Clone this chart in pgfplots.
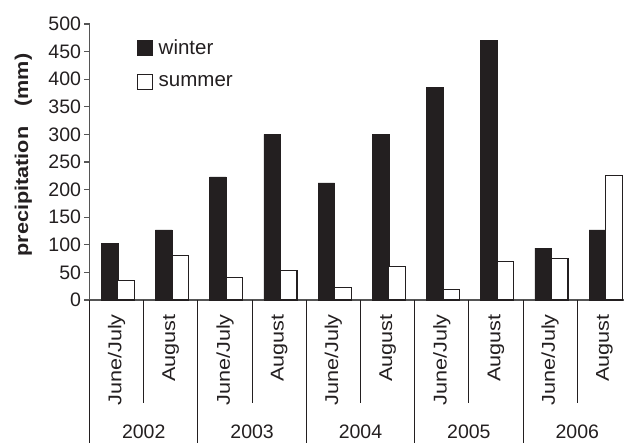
\documentclass[border=0pt]{standalone}
\usepackage{pgfplots}
\pgfplotsset{compat=1.18}
\usepackage{fontspec}
\setmainfont{Liberation Sans}
\newfontfamily\rotfont[FakeStretch=1.17]{Liberation Sans}
\definecolor{ink}{HTML}{231F20}
\definecolor{axgray}{HTML}{555555}
\begin{document}
\begin{tikzpicture}[x=1pt,y=1pt]
\useasboundingbox (0,0) rectangle (624,443);
\begin{axis}[
  at={(89.5pt,143pt)}, anchor=south west,
  scale only axis, width=542pt, height=276pt,
  xmin=0, xmax=10, ymin=0, ymax=500,
  clip=false,
  axis x line*=bottom, axis y line*=left,
  x axis line style={-, axgray, line width=1.3pt, shorten <=-5pt},
  y axis line style={-, axgray, line width=1.3pt},
  ytick={0,50,...,500},
  tick align=outside, major tick length=5pt,
  ytick style={axgray, line width=1.1pt},
  xtick=\empty,
  yticklabel style={font=\fontsize{19.5}{22}\selectfont, text=ink},
  /pgf/number format/assume math mode=true,
  ylabel={\rotfont\bfseries precipitation\hspace{20pt}(mm)},
  ylabel style={at={(axis description cs:-0.122,0.525)}, anchor=center,
    font=\fontsize{18.5}{22}\selectfont, text=ink},
  ybar, bar width=0.305,
  legend style={at={(axis description cs:0.0876,0.976)}, anchor=north west, draw=none, fill=none,
    font=\fontsize{20.5}{22}\selectfont, text=ink, inner sep=0pt,
    nodes={inner sep=1pt}},
  legend cell align=left,
  legend image code/.code={\draw[#1] (0pt,-7.5pt) rectangle (15pt,7.5pt); \path[draw=none,fill=none] (0pt,-17pt) rectangle (20pt,17pt);},
]
\addplot+[bar shift=-0.13, fill=ink, draw=ink, line width=0.6pt, mark=none]
  coordinates {(0.5,103) (1.5,127) (2.5,223) (3.5,300) (4.5,212) (5.5,300) (6.5,385) (7.5,471) (8.5,94) (9.5,127)};
\addlegendentry{winter}
\addplot+[bar shift=0.175, fill=white, draw=ink, line width=1.1pt, mark=none]
  coordinates {(0.5,35) (1.5,80) (2.5,40) (3.5,53) (4.5,22) (5.5,60) (6.5,19) (7.5,69) (8.5,75) (9.5,226)};
\addlegendentry{summer}
% separators of the category table
\foreach \k in {0,2,4,6,8,10} {
  \edef\temp{\noexpand\draw[ink, line width=0.9pt] (axis cs:\k,0) -- ++(0,-143pt);}
  \temp
}
\foreach \k in {1,3,5,7,9} {
  \edef\temp{\noexpand\draw[ink, line width=0.9pt] (axis cs:\k,0) -- ++(0,-103pt);}
  \temp
}
\foreach \k/\lab in {0.5/June\slash July,1.5/August,2.5/June\slash July,3.5/August,4.5/June\slash July,5.5/August,6.5/June\slash July,7.5/August,8.5/June\slash July,9.5/August} {
  \edef\temp{\noexpand\path (axis cs:\k,0) ++(0,-14pt) node[rotate=90, anchor=east, inner sep=0pt, text=ink, font=\noexpand\rotfont\noexpand\fontsize{18.5}{22}\noexpand\selectfont] {\lab};}
  \temp
}
\foreach \k/\yr in {1/2002,3/2003,5/2004,7/2005,9/2006} {
  \edef\temp{\noexpand\node[font=\noexpand\fontsize{19.5}{22}\noexpand\selectfont, text=ink, inner sep=0pt] at (axis cs:\k,0) [yshift=-132pt] {\yr};}
  \temp
}
\end{axis}
\end{tikzpicture}
\end{document}
